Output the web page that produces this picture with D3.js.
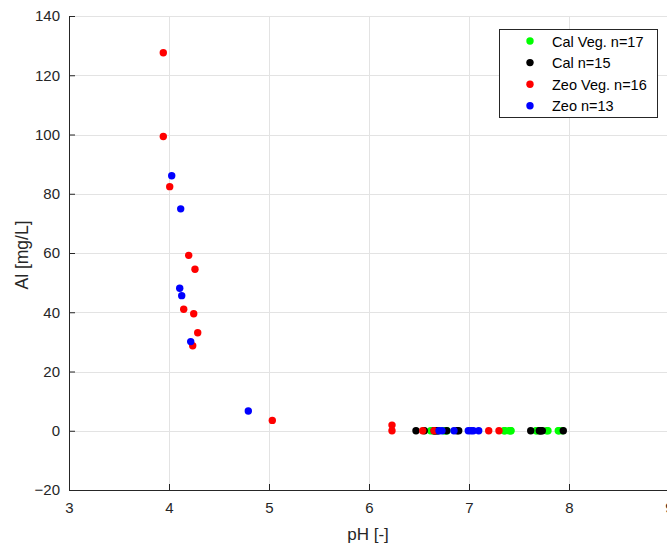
<!DOCTYPE html>
<html>
<head>
<meta charset="utf-8">
<script src="https://cdn.jsdelivr.net/npm/d3@7/dist/d3.min.js"></script>
<style>
  html, body { margin: 0; padding: 0; background: #fff; }
  svg { display: block; font-family: "Liberation Sans", Arial, sans-serif; }
</style>
</head>
<body>
<svg id="chart" width="667" height="544"></svg>
<script>
// Series: pH [-] and Al [mg/L] per sample group
const calVegPH = [6.617, 6.64, 6.75, 6.76, 6.78, 7.35, 7.36, 7.40, 7.417, 7.42, 7.67, 7.68, 7.777, 7.79, 7.893, 7.90, 7.933];
const calVegAl = [0, 0, 0, 0, 0, 0, 0, 0, 0, 0, 0, 0, 0, 0, 0, 0, 0];

const calPH = [6.47, 6.553, 6.653, 6.66, 6.677, 6.69, 6.777, 6.88, 6.897, 7.617, 7.703, 7.71, 7.72, 7.733, 7.943];
const calAl = [0, 0, 0, 0, 0, 0, 0, 0, 0, 0, 0, 0, 0, 0, 0];

const zeoVegPH = [3.943, 3.943, 4.007, 4.197, 4.26, 4.147, 4.247, 4.287, 4.237, 5.033, 6.23, 6.23, 6.537, 6.65, 7.197, 7.30];
const zeoVegAl = [127.6, 99.3, 82.4, 59.2, 54.5, 41.0, 39.5, 33.1, 28.7, 3.5, 1.9, 0, 0, 0, 0, 0];

const zeoPH = [4.027, 4.117, 4.107, 4.127, 4.217, 4.793, 6.70, 6.73, 6.85, 6.993, 7.02, 7.043, 7.097];
const zeoAl = [86.1, 74.9, 48.1, 45.6, 30.1, 6.67, 0, 0, 0, 0, 0, 0, 0];

const seriesNames = ["Cal Veg. n=17", "Cal n=15", "Zeo Veg. n=16", "Zeo n=13"];
const seriesColors = ["#00ff00", "#000000", "#ff0000", "#0000ff"];

const xTicks = [3, 4, 5, 6, 7, 8, 9];
const yTicks = [-20, 0, 20, 40, 60, 80, 100, 120, 140];

const series = [
  { name: seriesNames[0], color: seriesColors[0], x: calVegPH, y: calVegAl },
  { name: seriesNames[1], color: seriesColors[1], x: calPH, y: calAl },
  { name: seriesNames[2], color: seriesColors[2], x: zeoVegPH, y: zeoVegAl },
  { name: seriesNames[3], color: seriesColors[3], x: zeoPH, y: zeoAl }
];

const svg = d3.select("#chart");
const margin = { left: 69, top: 16, right: 669, bottom: 490 };

const x = d3.scaleLinear().domain([3, 9]).range([margin.left, margin.right]);
const y = d3.scaleLinear().domain([-20, 140]).range([margin.bottom, margin.top]);

const axisColor = "#262626";
const gridColor = "#e3e3e3";

// grid
const grid = svg.append("g");
grid.selectAll("line.gx").data(xTicks).join("line")
  .attr("x1", d => x(d) + 0.5).attr("x2", d => x(d) + 0.5)
  .attr("y1", margin.top).attr("y2", margin.bottom)
  .attr("stroke", gridColor).attr("stroke-width", 1);
grid.selectAll("line.gy").data(yTicks).join("line")
  .attr("x1", margin.left).attr("x2", margin.right)
  .attr("y1", d => Math.round(y(d)) + 0.5).attr("y2", d => Math.round(y(d)) + 0.5)
  .attr("stroke", gridColor).attr("stroke-width", 1);

// axes (inward ticks)
const xAxis = d3.axisBottom(x).tickValues(xTicks).tickSizeInner(-6).tickSizeOuter(0).tickPadding(12)
  .tickFormat(d3.format("d"));
const gx = svg.append("g").attr("transform", `translate(0,${margin.bottom})`).call(xAxis);

const yAxis = d3.axisLeft(y).tickValues(yTicks).tickSizeInner(-6).tickSizeOuter(0).tickPadding(9)
  .tickFormat(d3.format("d"));
const gy = svg.append("g").attr("transform", `translate(${margin.left},0)`).call(yAxis);

[gx, gy].forEach(g => {
  g.select(".domain").attr("stroke", axisColor).attr("stroke-width", 1);
  g.selectAll(".tick line").attr("stroke", axisColor);
  g.selectAll(".tick text").attr("fill", axisColor).attr("font-size", 15)
    .attr("font-family", "Liberation Sans, Arial, sans-serif");
});

// axis titles
svg.append("text").attr("x", 368).attr("y", 540)
  .attr("text-anchor", "middle").attr("fill", axisColor).attr("font-size", 17)
  .text("pH [-]");
svg.append("text").attr("transform", `translate(28,255) rotate(-90)`)
  .attr("text-anchor", "middle").attr("fill", axisColor).attr("font-size", 17.5)
  .text("Al [mg/L]");

// markers
series.forEach(s => {
  svg.append("g").selectAll("circle")
    .data(s.x.map((v, i) => [v, s.y[i]]))
    .join("circle")
    .attr("cx", d => x(d[0])).attr("cy", d => y(d[1]))
    .attr("r", 3.7).attr("fill", s.color);
});

// legend
const lg = svg.append("g");
lg.append("rect").attr("x", 499.5).attr("y", 29.5).attr("width", 158).attr("height", 88)
  .attr("fill", "#fff").attr("stroke", axisColor).attr("stroke-width", 1);
series.forEach((s, i) => {
  const cy = 41 + i * 21.6;
  lg.append("circle").attr("cx", 530).attr("cy", cy).attr("r", 3.7).attr("fill", s.color);
  lg.append("text").attr("x", 552).attr("y", cy + 5.5).attr("font-size", 14.5)
    .attr("fill", "#000").text(s.name);
});
</script>
</body>
</html>
